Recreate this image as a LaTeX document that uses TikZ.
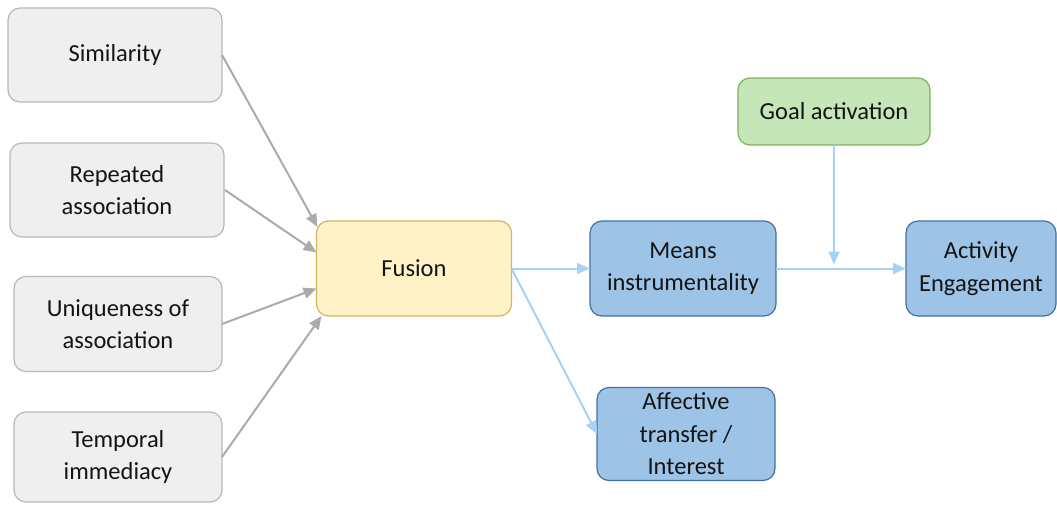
\documentclass[tikz,border=0pt]{standalone}
\usepackage{fontspec}
\setmainfont{Carlito}
\usetikzlibrary{arrows.meta,calc}

\definecolor{greyfill}{HTML}{EFEFEF}
\definecolor{greyline}{HTML}{B8B8B8}
\definecolor{fusfill}{HTML}{FFF2C6}
\definecolor{fusline}{HTML}{D4B45E}
\definecolor{bluefill}{HTML}{9DC3E6}
\definecolor{blueline}{HTML}{41719C}
\definecolor{greenfill}{HTML}{C5E6B8}
\definecolor{greenline}{HTML}{7FAF5E}
\definecolor{greyarrow}{HTML}{ABABAB}
\definecolor{bluearrow}{HTML}{A5D3F7}
\definecolor{ink}{HTML}{141414}

\begin{document}
\begin{tikzpicture}[x=1pt,y=-1pt,
  box/.style={rectangle, rounded corners=12pt, line width=1.2pt, align=center,
    inner sep=0pt, outer sep=0pt, text=ink,
    font=\fontsize{24.5}{32.5}\selectfont},
  factor/.style={box, draw=greyline, fill=greyfill},
  fusionbox/.style={box, draw=fusline, fill=fusfill},
  outcome/.style={box, draw=blueline, fill=bluefill},
  goalbox/.style={box, draw=greenline, fill=greenfill},
  greyarr/.style={draw=greyarrow, line width=2pt, -{Triangle[length=13pt,width=11pt]}},
  bluearr/.style={draw=bluearrow, line width=2pt, -{Triangle[length=13pt,width=11pt]}}]

\useasboundingbox (0,0) rectangle (1057,504);

% antecedent factors
\node[factor, minimum width=214pt, minimum height=94pt] (sim) at (115,55) {Similarity};
\node[factor, minimum width=214pt, minimum height=94pt] (rep) at (117,190) {Repeated\\association};
\node[factor, minimum width=208pt, minimum height=95pt] (uni) at (118,324) {Uniqueness of\\association};
\node[factor, minimum width=208pt, minimum height=90pt] (tem) at (118,457) {Temporal\\immediacy};

% central construct and outcomes
\node[fusionbox, minimum width=195pt, minimum height=95pt] (fus) at (414,268.5) {Fusion};
\node[outcome, minimum width=186pt, minimum height=95pt] (mea) at (683,268.5) {Means\\instrumentality};
\node[outcome, minimum width=150pt, minimum height=95pt] (act) at (981,268.5) {Activity\\Engagement};
\node[outcome, minimum width=178pt, minimum height=93pt] (aff) at (686,434) {Affective\\transfer /\\Interest};
\node[goalbox, minimum width=192pt, minimum height=67pt] (goal) at (834,111.5) {Goal activation};

% arrows into Fusion
\draw[greyarr] (sim.east) -- ($(fus.north west)+(1,6)$);
\draw[greyarr] ($(rep.east)+(1,0)$) -- ($(fus.west)+(0,-16)$);
\draw[greyarr] (uni.east) -- ($(fus.west)+(0,20)$);
\draw[greyarr] (tem.east) -- ($(fus.south west)+(5,0)$);

% arrows out of Fusion
\draw[bluearr] (fus.east) -- (mea.west);
\draw[bluearr] (fus.east) -- (aff.west);
\draw[bluearr] (mea.east) -- (act.west);

% moderating arrow from Goal activation
\coordinate (join) at (goal.south |- mea.east);
\draw[bluearr] (goal.south) -- ($(join)+(0,-4)$);
\end{tikzpicture}
\end{document}
